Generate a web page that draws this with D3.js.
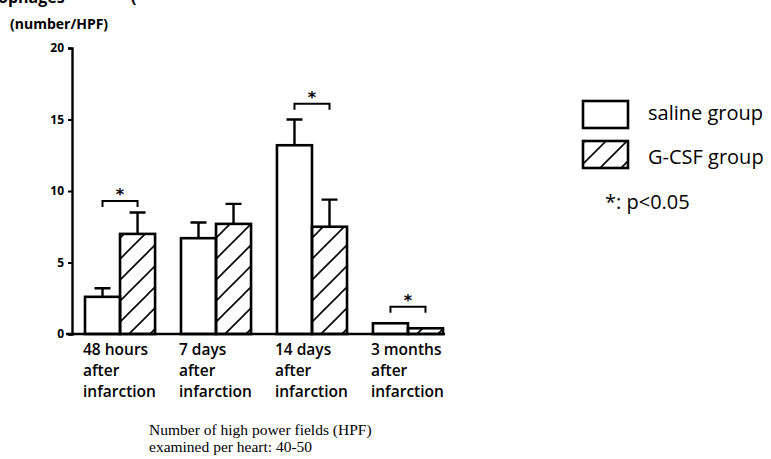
<!DOCTYPE html>
<html lang="en"><head>
<meta charset="utf-8">
<title>Macrophages after infarction</title>
<script src="https://cdn.jsdelivr.net/npm/d3@7"></script>
<style>
  body { margin: 0; background: #fff; }
  svg { display: block; }
</style>
</head>
<body>
<script type="text/javascript">

// data
var categories = [["48 hours", "after", "infarction"],
                  ["7 days", "after", "infarction"],
                  ["14 days", "after", "infarction"],
                  ["3 months", "after", "infarction"]];
var series = ["saline group", "G-CSF group"];
var salineMean = [2.6, 6.7, 13.2, 0.75];
var salineErr = [0.6, 1.1, 1.8, 0];
var gcsfMean = [7.0, 7.7, 7.5, 0.4];
var gcsfErr = [1.5, 1.4, 1.9, 0];
var sigLevel = [9.3, null, 16.1, 1.9];   // height of the "*" bracket, in y units
var yTicks = [0, 5, 10, 15, 20];

var width = 771, height = 459;

var svg = d3.select("body").append("svg")
    .attr("width", width)
    .attr("height", height);

var defs = svg.append("defs");
defs.append("pattern")
    .attr("id", "hatch")
    .attr("patternUnits", "userSpaceOnUse")
    .attr("width", 21).attr("height", 21)
    .append("path")
    .attr("d", "M0,21 L21,0 M-3,3 L3,-3 M18,24 L24,18")
    .attr("stroke", "#000")
    .attr("stroke-width", 1.6);

var y = d3.scaleLinear().domain([0, 20]).range([334, 48]);
var x0 = d3.scaleBand().domain(d3.range(categories.length)).range([85, 443])
    .paddingInner(0.27).paddingOuter(0);
var x1 = d3.scaleBand().domain(series).range([0, x0.bandwidth()]).padding(0);

var rows = categories.map(function(c, i) {
    return [
        {s: series[0], v: salineMean[i], e: salineErr[i]},
        {s: series[1], v: gcsfMean[i], e: gcsfErr[i]}
    ];
});

// cut-off title at the very top
svg.append("text").attr("x", -2).attr("y", 3)
    .style("font-family", "Open Sans").style("font-weight", 700).style("font-size", "16px")
    .text("ophages");
svg.append("text").attr("x", 131).attr("y", 3)
    .style("font-family", "Open Sans").style("font-weight", 700).style("font-size", "16px")
    .text("(");

svg.append("text").attr("x", 10).attr("y", 29)
    .style("font-family", "Open Sans").style("font-weight", 700).style("font-size", "14px")
    .text("(number/HPF)");

// y axis
var yAxis = d3.axisLeft(y).tickValues(yTicks).tickSize(4).tickPadding(4);
var gy = svg.append("g").attr("transform", "translate(72,0)").call(yAxis);
gy.select(".domain").attr("stroke", "#000").attr("stroke-width", 2.4);
gy.selectAll(".tick line").attr("stroke", "#000").attr("stroke-width", 2);
gy.selectAll(".tick text")
    .style("font-family", "Open Sans").style("font-weight", 700).style("font-size", "12px")
    .attr("fill", "#000");

// bars
var groups = svg.selectAll(".grp").data(rows).enter().append("g")
    .attr("transform", function(d, i) { return "translate(" + x0(i) + ",0)"; });

groups.selectAll("path.err").data(function(d) { return d.filter(function(b) { return b.e > 0; }); })
    .enter().append("path")
    .attr("d", function(b) {
        var cx = x1(b.s) + x1.bandwidth() / 2;
        return "M" + cx + "," + y(b.v) + "V" + y(b.v + b.e) + "M" + (cx - 8) + "," + y(b.v + b.e) + "H" + (cx + 8);
    })
    .attr("stroke", "#000").attr("stroke-width", 2.4).attr("fill", "none");

groups.selectAll("rect").data(function(d) { return d; }).enter().append("rect")
    .attr("x", function(b) { return x1(b.s); })
    .attr("y", function(b) { return y(b.v); })
    .attr("width", x1.bandwidth())
    .attr("height", function(b) { return y(0) - y(b.v); })
    .attr("fill", function(b) { return b.s === series[1] ? "url(#hatch)" : "#fff"; })
    .attr("stroke", "#000").attr("stroke-width", 2.6);

// x axis base line
svg.append("line")
    .attr("x1", 66).attr("x2", 445)
    .attr("y1", y(0)).attr("y2", y(0))
    .attr("stroke", "#000").attr("stroke-width", 2.4);

// significance brackets
sigLevel.forEach(function(lv, i) {
    if (lv === null) return;
    var a = x0(i) + x1.bandwidth() / 2, b = x0(i) + x1.bandwidth() * 1.5;
    var yy = y(lv);
    svg.append("path")
        .attr("d", "M" + a + "," + (yy + 6) + "V" + yy + "H" + b + "V" + (yy + 6))
        .attr("stroke", "#000").attr("stroke-width", 2).attr("fill", "none");
    svg.append("text").attr("x", (a + b) / 2).attr("y", yy - 1)
        .attr("text-anchor", "middle")
        .style("font-family", "DejaVu Sans").style("font-weight", 700).style("font-size", "16px")
        .text("*");
});

// category labels
categories.forEach(function(lines, i) {
    var t = svg.append("text").attr("x", x0(i) - 2).attr("y", 355)
        .style("font-family", "Open Sans").style("font-weight", 600).style("font-size", "15.5px");
    lines.forEach(function(l, k) {
        t.append("tspan").attr("x", x0(i) - 2).attr("y", 355 + k * 21).text(l);
    });
});

// footnote
svg.append("text").attr("x", 149).attr("y", 435)
    .style("font-family", "Liberation Serif").style("font-size", "15.5px")
    .text("Number of high power fields (HPF)");
svg.append("text").attr("x", 149).attr("y", 452)
    .style("font-family", "Liberation Serif").style("font-size", "15.5px")
    .text("examined per heart: 40-50");

// legend
var leg = svg.append("g").attr("transform", "translate(583,101)");
series.forEach(function(s, i) {
    leg.append("rect").attr("x", 0).attr("y", i * 40).attr("width", 45).attr("height", 27)
        .attr("fill", i === 1 ? "url(#hatch)" : "#fff")
        .attr("stroke", "#000").attr("stroke-width", 2.6);
    leg.append("text").attr("x", 65).attr("y", i * 40 + 19 + i * 4)
        .style("font-family", "Open Sans").style("font-size", "20px")
        .text(s);
});
leg.append("text").attr("x", 22).attr("y", 108)
    .style("font-family", "Open Sans").style("font-size", "20px")
    .text("*: p<0.05");

</script>
</body>
</html>
